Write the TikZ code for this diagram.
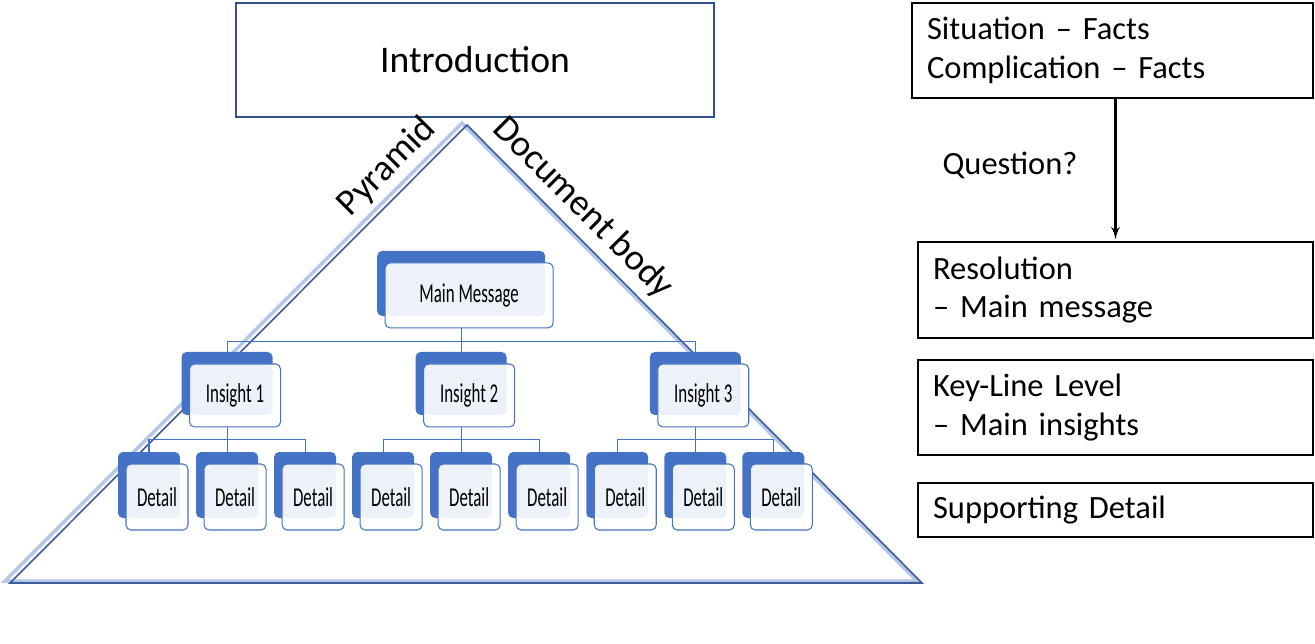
\documentclass[tikz,border=0pt]{standalone}
\usepackage{fontspec}
\setmainfont{Carlito}
\newfontfamily\narrowfont[FakeStretch=0.62]{Carlito}
\usepackage{tikz}
\usetikzlibrary{arrows}
\usetikzlibrary{positioning}
\usetikzlibrary{shadows,backgrounds}
\definecolor{cardblue}{HTML}{4472C4}
\definecolor{cardlight}{HTML}{EDF1F9}
\definecolor{introblue}{HTML}{2F528F}
\definecolor{pyrdark}{HTML}{3B5B9B}
\definecolor{pyrlight}{HTML}{B4C7E7}

\begin{document}
\begin{tikzpicture}[x=0.02cm,y=-0.02cm,>=latex',shorten >=1pt,
  card/.style={draw=cardblue,line width=0.6pt,fill=white,rounded corners=0.1cm,inner sep=0pt,
    font=\narrowfont\fontsize{15.5}{18}\selectfont,
    general shadow={fill=cardblue,shadow xshift=-0.16cm,shadow yshift=0.24cm},
    path picture={\fill[cardlight] (path picture bounding box.north west) rectangle ([xshift=-0.16cm,yshift=0.24cm]path picture bounding box.south east);}},
  detail/.style={card,minimum width=1.24cm,minimum height=1.32cm},
  insight/.style={card,minimum width=1.82cm,minimum height=1.26cm},
  link/.style={draw=cardblue,line width=0.6pt,transform canvas={xshift=-0.16cm}},
  rbox/.style={draw,line width=1.1pt,inner xsep=0.3cm,text width=7.3cm,align=left,font=\fontsize{18.5}{22}\selectfont},
  side/.style={font=\fontsize{21}{25}\selectfont}]
\useasboundingbox (0,0) rectangle (1315,643);

% introduction and pyramid
\node[draw=introblue,line width=1pt,minimum width=9.56cm,minimum height=2.28cm,font=\fontsize{21.4}{26}\selectfont] (intro) at (475,60) {Introduction};
\coordinate (apex) at (467,125);
\coordinate (bl) at (10,583);
\coordinate (br) at (922,583);
\node[side,rotate=45] (pyr) at (387,167) {Pyramid};
\node[side,rotate=-45] (doc) at (583,208) {Document body};

% detail row
\node[detail] (d11) at (157,497) {Detail};
\node[detail] (d12) [right=0.3cm of d11] {Detail};
\node[detail] (d13) [right=0.3cm of d12] {Detail};
\node[detail] (d21) [right=0.3cm of d13] {Detail};
\node[detail] (d22) [right=0.3cm of d21] {Detail};
\node[detail] (d23) [right=0.3cm of d22] {Detail};
\node[detail] (d31) [right=0.3cm of d23] {Detail};
\node[detail] (d32) [right=0.3cm of d31] {Detail};
\node[detail] (d33) [right=0.3cm of d32] {Detail};

% insights and main message
\node[insight] (i1) [above=0.72cm of d12] {Insight 1};
\node[insight] (i2) [above=0.72cm of d22] {Insight 2};
\node[insight] (i3) [above=0.72cm of d32] {Insight 3};
\node[card,minimum width=3.36cm,minimum height=1.3cm] (main) [above=0.7cm of i2] {Main Message};

\begin{scope}[on background layer]
\draw[pyrlight,line width=2pt,transform canvas={xshift=-0.1cm,yshift=0.04cm}] (apex) -- (bl) -- (br) -- cycle;
\draw[pyrdark,line width=0.9pt] (apex) -- (bl) -- (br) -- cycle;

\draw[link] (main.south) -- ++(0,13) -| (i1.north);
\draw[link] (main.south) -- ++(0,13) -| (i3.north);
\draw[link] (main.south) -- (i2.north);

\draw[link] (i1.south) -- ++(0,12) -| (d11.north);
\draw[link] (i1.south) -- ++(0,12) -| (d13.north);
\draw[link] (i1.south) -- (d12.north);
\draw[link] (i2.south) -- ++(0,12) -| (d21.north);
\draw[link] (i2.south) -- ++(0,12) -| (d23.north);
\draw[link] (i2.south) -- (d22.north);
\draw[link] (i3.south) -- ++(0,12) -| (d31.north);
\draw[link] (i3.south) -- ++(0,12) -| (d33.north);
\draw[link] (i3.south) -- (d32.north);
\end{scope}

% right hand side
\node[rbox,text width=7.42cm,minimum height=1.9cm] (sc) at (1112.5,50.5) {Situation – Facts\\Complication – Facts};
\node[rbox,minimum height=1.92cm] (res) [below=2.84cm of sc.south east,anchor=north east] {Resolution\\– Main message};
\node[rbox,minimum height=1.9cm] (key) [below=0.4cm of res] {Key-Line Level\\– Main insights};
\node[rbox,minimum height=1.08cm] (sup) [below=0.52cm of key] {Supporting Detail};
\node[font=\fontsize{18.5}{22}\selectfont] (q) at (1010,165) {Question?};
\draw[->,line width=1.4pt] (res.north |- sc.south) -- (res.north);
\end{tikzpicture}
\end{document}
